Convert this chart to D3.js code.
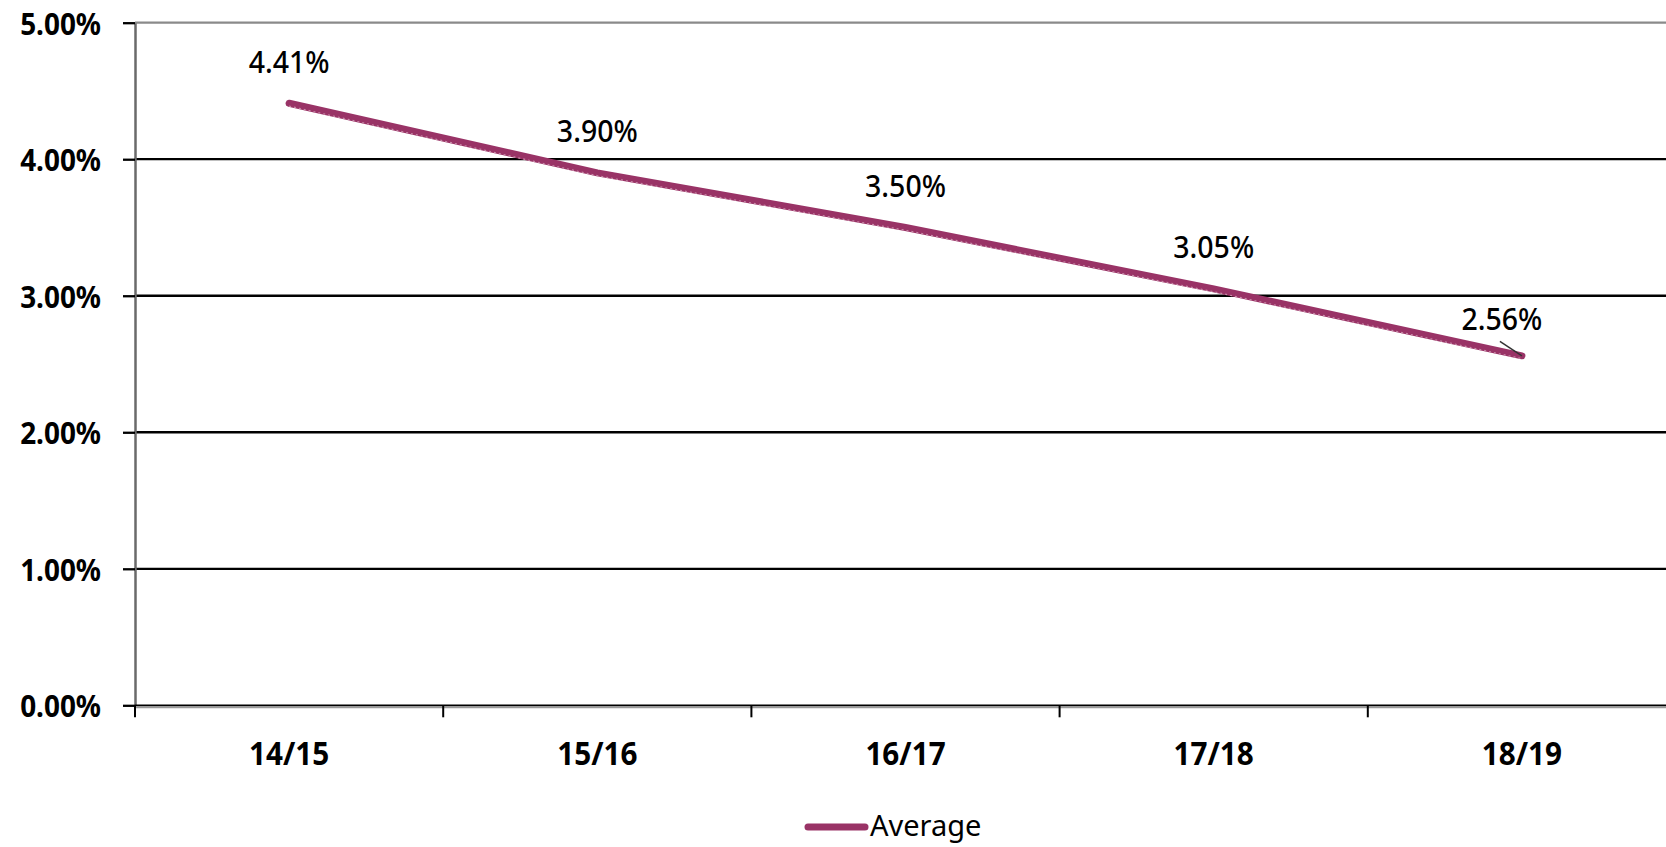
<!DOCTYPE html>
<html>
<head>
<meta charset="utf-8">
<script src="https://cdn.jsdelivr.net/npm/d3@7"></script>
<style>
  html, body { margin: 0; padding: 0; background: #ffffff; }
  svg { display: block; }
  text { font-family: "Noto Sans", sans-serif; fill: #000; }
</style>
</head>
<body>
<svg id="chart" width="1666" height="847"></svg>
<script>
// Average rate by year
const categories = ["14/15", "15/16", "16/17", "17/18", "18/19"];
const averageValues = [0.0441, 0.0390, 0.0350, 0.0305, 0.0256];
const valueLabels = ["4.41%", "3.90%", "3.50%", "3.05%", "2.56%"];
const yTicks = [0, 0.01, 0.02, 0.03, 0.04, 0.05];
const yTickLabels = ["0.00%", "1.00%", "2.00%", "3.00%", "4.00%", "5.00%"];
const seriesName = "Average";

const svg = d3.select("#chart");
const W = 1666, H = 847;
const plotLeft = 135, plotRight = 1676, plotTop = 22.7, plotBottom = 705.3;
const lineColor = "#993366";
// glyphs are drawn slightly narrowed
const axisSqueeze = 0.9;
const labelSqueeze = 0.95;

const x = d3.scaleBand().domain(categories).range([plotLeft, plotRight]).padding(0);
const y = d3.scaleLinear().domain([0, 0.05]).range([plotBottom, plotTop]);
const cx = c => x(c) + x.bandwidth() / 2;

// horizontal gridlines
svg.append("g").selectAll("line")
  .data(yTicks.filter(t => t > 0 && t < 0.05))
  .join("line")
  .attr("x1", plotLeft).attr("x2", W)
  .attr("y1", d => y(d)).attr("y2", d => y(d))
  .attr("stroke", "#000").attr("stroke-width", 2.3);

// top border of the plot area
svg.append("line")
  .attr("x1", plotLeft).attr("x2", W)
  .attr("y1", y(0.05)).attr("y2", y(0.05))
  .attr("stroke", "#8a8a8a").attr("stroke-width", 2.3);

// y axis
const yAxis = d3.axisLeft(y)
  .tickValues(yTicks)
  .tickFormat((d, i) => yTickLabels[i])
  .tickSize(12)
  .tickSizeOuter(0)
  .tickPadding(22);
const gy = svg.append("g").attr("transform", `translate(${plotLeft},0)`).call(yAxis);
gy.select(".domain").attr("stroke", "#6a6a6a").attr("stroke-width", 2.5);
gy.selectAll(".tick line").attr("stroke", "#000").attr("stroke-width", 2.3);
gy.selectAll(".tick text")
  .attr("x", 0).attr("dy", null)
  .attr("transform", `translate(-34,11.5) scale(${axisSqueeze},1)`)
  .style("font-size", "31px").style("font-weight", "700")
  .style("font-family", '"Noto Sans", sans-serif');

// x axis baseline
svg.append("line")
  .attr("x1", plotLeft).attr("x2", W)
  .attr("y1", plotBottom + 1.5).attr("y2", plotBottom + 1.5)
  .attr("stroke", "#9a9a9a").attr("stroke-width", 3);
svg.append("line")
  .attr("x1", plotLeft).attr("x2", W)
  .attr("y1", plotBottom).attr("y2", plotBottom)
  .attr("stroke", "#000").attr("stroke-width", 1.6);

// x axis: tick marks on the category boundaries
const boundaries = categories.map(c => x(c)).concat([x.range()[1]]);
svg.append("g").selectAll("line")
  .data(boundaries)
  .join("line")
  .attr("x1", d => d).attr("x2", d => d)
  .attr("y1", plotBottom).attr("y2", plotBottom + 12)
  .attr("stroke", "#000").attr("stroke-width", 2);

// category labels
svg.append("g").selectAll("text")
  .data(categories)
  .join("text")
  .attr("text-anchor", "middle")
  .attr("transform", d => `translate(${cx(d)},765) scale(${axisSqueeze},1)`)
  .style("font-size", "33px").style("font-weight", "700")
  .text(d => d);

// series line
const line = d3.line()
  .x((d, i) => cx(categories[i]))
  .y(d => y(d));

svg.append("path")
  .datum(averageValues)
  .attr("d", line)
  .attr("fill", "none")
  .attr("stroke", lineColor)
  .attr("stroke-width", 7)
  .attr("stroke-linecap", "round")
  .attr("stroke-linejoin", "round");
svg.append("path")
  .datum(averageValues)
  .attr("d", line)
  .attr("transform", "translate(0,2.8)")
  .attr("fill", "none")
  .attr("stroke", "#c98aa8")
  .attr("stroke-width", 1.2)
  .attr("stroke-dasharray", "2,3");

// data labels (the last one is pulled aside with a leader line)
const labelShift = [[0, 0], [0, 0], [0, 0], [0, 0], [-20, 5]];
const labels = svg.append("g");
averageValues.forEach((v, i) => {
  const px = cx(categories[i]), py = y(v);
  const lx = px + labelShift[i][0], ly = py - 30.5 + labelShift[i][1];
  if (labelShift[i][0] !== 0) {
    labels.append("line")
      .attr("x1", lx - 2).attr("y1", ly + 11)
      .attr("x2", px).attr("y2", py)
      .attr("stroke", "#333").attr("stroke-width", 1.5);
  }
  labels.append("text")
    .attr("text-anchor", "middle")
    .attr("transform", `translate(${lx},${ly}) scale(${labelSqueeze},1)`)
    .style("font-size", "30px").style("font-weight", "500")
    .text(valueLabels[i]);
});

// legend
const legend = svg.append("g").attr("transform", "translate(808,827)");
legend.append("line")
  .attr("x1", 0).attr("x2", 57).attr("y1", 0).attr("y2", 0)
  .attr("stroke", lineColor).attr("stroke-width", 7).attr("stroke-linecap", "round");
legend.append("text")
  .attr("x", 62).attr("y", 9)
  .style("font-size", "29px").style("font-weight", "400")
  .text(seriesName);
</script>
</body>
</html>
